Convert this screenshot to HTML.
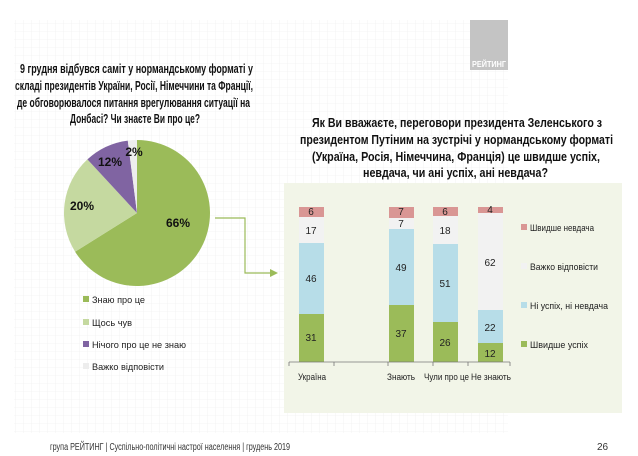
<!DOCTYPE html>
<html><head><meta charset="utf-8"><style>
html,body{margin:0;padding:0;background:#fff;}
svg{display:block;font-family:"Liberation Sans",sans-serif;}
</style></head><body>
<svg width="638" height="456" viewBox="0 0 638 456">
<defs>
<pattern id="g" width="8" height="8" patternUnits="userSpaceOnUse">
<path d="M8 0V8M0 8H8" stroke="#ececec" stroke-width="0.6" fill="none"/>
</pattern>
</defs>
<rect x="14" y="20" width="494" height="413" fill="url(#g)"/>
<rect x="470" y="20" width="38" height="50" fill="#c4c4c4"/>
<text x="489" y="67" font-size="8" font-weight="bold" fill="#fff" text-anchor="middle" textLength="34" lengthAdjust="spacingAndGlyphs">РЕЙТИНГ</text>
<rect x="284" y="183" width="338" height="230" fill="#f2f5e8"/>
<g font-size="12.5" font-weight="bold" fill="#111">
<text x="20" y="73" textLength="233" lengthAdjust="spacingAndGlyphs">9 грудня відбувся саміт у нормандському форматі у</text>
<text x="15" y="90" textLength="238" lengthAdjust="spacingAndGlyphs">складі президентів України, Росії, Німеччини та Франції,</text>
<text x="17" y="107" textLength="233" lengthAdjust="spacingAndGlyphs">де обговорювалося питання врегулювання ситуації на</text>
<text x="70" y="123" textLength="130" lengthAdjust="spacingAndGlyphs">Донбасі? Чи знаєте Ви про це?</text>
<text x="312" y="127" textLength="290" lengthAdjust="spacingAndGlyphs">Як Ви вважаєте, переговори президента Зеленського з</text>
<text x="300" y="144" textLength="313" lengthAdjust="spacingAndGlyphs">президентом Путіним на зустрічі у нормандському форматі</text>
<text x="312" y="161" textLength="288" lengthAdjust="spacingAndGlyphs">(Україна, Росія, Німеччина, Франція) це швидше успіх,</text>
<text x="363" y="177" textLength="185" lengthAdjust="spacingAndGlyphs">невдача, чи ані успіх, ані невдача?</text>
</g>
<g transform="translate(137,213)">
<path d="M0 0 L0 -73 A73 73 0 1 1 -61.9 38.7 Z" fill="#9bbb59"/>
<path d="M0 0 L-61.9 38.7 A73 73 0 0 1 -49.6 -53.6 Z" fill="#c5d9a0"/>
<path d="M0 0 L-49.6 -53.6 A73 73 0 0 1 -9.2 -72.4 Z" fill="#8064a2"/>
<path d="M0 0 L-9.2 -72.4 A73 73 0 0 1 0 -73 Z" fill="#ededed"/>
</g>
<g font-size="12" font-weight="bold" fill="#111" text-anchor="middle">
<text x="178" y="227">66%</text>
<text x="82" y="210">20%</text>
<text x="110" y="166">12%</text>
<text x="134" y="156">2%</text>
</g>
<path d="M215 218 H245 V273 H270" stroke="#9bbb59" stroke-width="1.2" fill="none"/>
<path d="M270 269 L278 273 L270 277 Z" fill="#9bbb59"/>
<g font-size="9.5" fill="#222">
<rect x="83" y="296" width="6" height="6" fill="#9bbb59"/><text x="92" y="303" textLength="53" lengthAdjust="spacingAndGlyphs">Знаю про це</text>
<rect x="83" y="319" width="6" height="6" fill="#c5d9a0"/><text x="92" y="326" textLength="40" lengthAdjust="spacingAndGlyphs">Щось чув</text>
<rect x="83" y="341" width="6" height="6" fill="#8064a2"/><text x="92" y="348" textLength="94" lengthAdjust="spacingAndGlyphs">Нічого про це не знаю</text>
<rect x="83" y="363" width="6" height="6" fill="#ededed"/><text x="92" y="370" textLength="72" lengthAdjust="spacingAndGlyphs">Важко відповісти</text>
</g>
<g>
<rect x="299" y="314" width="25" height="48" fill="#9bbb59"/>
<rect x="299" y="243" width="25" height="71" fill="#b7dde8"/>
<rect x="299" y="217" width="25" height="26" fill="#f2f2f2"/>
<rect x="299" y="207" width="25" height="10" fill="#d99694"/>
<rect x="389" y="305" width="25" height="57" fill="#9bbb59"/>
<rect x="389" y="229" width="25" height="76" fill="#b7dde8"/>
<rect x="389" y="218" width="25" height="11" fill="#f2f2f2"/>
<rect x="389" y="207" width="25" height="11" fill="#d99694"/>
<rect x="433" y="322" width="25" height="40" fill="#9bbb59"/>
<rect x="433" y="244" width="25" height="78" fill="#b7dde8"/>
<rect x="433" y="216" width="25" height="28" fill="#f2f2f2"/>
<rect x="433" y="207" width="25" height="9" fill="#d99694"/>
<rect x="478" y="343" width="25" height="19" fill="#9bbb59"/>
<rect x="478" y="310" width="25" height="33" fill="#b7dde8"/>
<rect x="478" y="213" width="25" height="97" fill="#f2f2f2"/>
<rect x="478" y="207" width="25" height="6" fill="#d99694"/>
</g>
<path d="M289 362 H510 M289 362 V366 M334 362 V366 M388 362 V366 M433 362 V366 M468 362 V366 M510 362 V366" stroke="#777" stroke-width="0.8" fill="none"/>
<g font-size="10" fill="#222" text-anchor="middle">
<text x="311" y="215">6</text><text x="311" y="234">17</text><text x="311" y="282">46</text><text x="311" y="341">31</text>
<text x="401" y="215">7</text><text x="401" y="227">7</text><text x="401" y="271">49</text><text x="401" y="337">37</text>
<text x="445" y="215">6</text><text x="445" y="234">18</text><text x="445" y="287">51</text><text x="445" y="346">26</text>
<text x="490" y="213">4</text><text x="490" y="266">62</text><text x="490" y="331">22</text><text x="490" y="357">12</text>
</g>
<g font-size="9" fill="#222">
<text x="298" y="380" textLength="28" lengthAdjust="spacingAndGlyphs">Україна</text>
<text x="387" y="380" textLength="28" lengthAdjust="spacingAndGlyphs">Знають</text>
<text x="424" y="380" textLength="45" lengthAdjust="spacingAndGlyphs">Чули про це</text>
<text x="471" y="380" textLength="40" lengthAdjust="spacingAndGlyphs">Не знають</text>
</g>
<g font-size="9.5" fill="#222">
<rect x="521" y="224" width="6" height="6" fill="#d99694"/><text x="530" y="231" textLength="64" lengthAdjust="spacingAndGlyphs">Швидше невдача</text>
<rect x="521" y="263" width="6" height="6" fill="#f2f2f2"/><text x="530" y="270" textLength="68" lengthAdjust="spacingAndGlyphs">Важко відповісти</text>
<rect x="521" y="302" width="6" height="6" fill="#b7dde8"/><text x="530" y="309" textLength="78" lengthAdjust="spacingAndGlyphs">Ні успіх, ні невдача</text>
<rect x="521" y="341" width="6" height="6" fill="#9bbb59"/><text x="530" y="348" textLength="58" lengthAdjust="spacingAndGlyphs">Швидше успіх</text>
</g>
<g font-size="10" fill="#333">
<text x="50" y="450" textLength="240" lengthAdjust="spacingAndGlyphs">група РЕЙТИНГ | Суспільно-політичні настрої населення  | грудень 2019</text>
<text x="597" y="450">26</text>
</g>
</svg>
</body></html>
